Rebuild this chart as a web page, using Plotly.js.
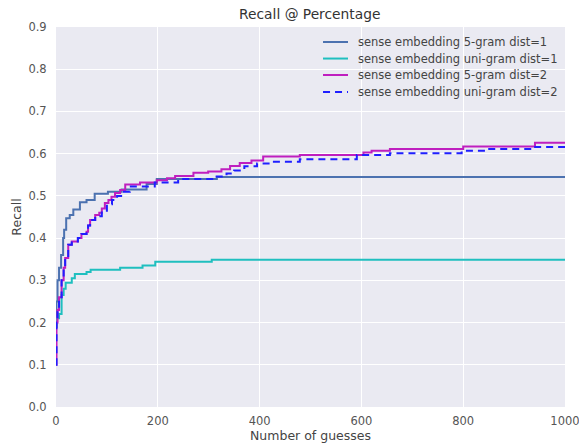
<!DOCTYPE html>
<html><head><meta charset="utf-8">
<script src="https://cdn.plot.ly/plotly-3.0.1.min.js"></script>
<style>html,body{margin:0;padding:0;background:#fff;}#chart{width:579px;height:443px;}</style>
</head><body><div id="chart"></div>
<script>
var names = ["sense embedding 5-gram dist=1","sense embedding uni-gram dist=1","sense embedding 5-gram dist=2","sense embedding uni-gram dist=2"];
var colors = ['#4c72b0', '#1fbfbf', '#bf1fbf', '#1f1fff'];
var dashes = ['solid', 'solid', 'solid', '7px,5px'];
var xA = [0, 1, 3, 6, 10, 14, 16, 20, 27, 34, 47, 60, 76, 102, 129, 178, 198, 316, 1000];
var yA = [0.19, 0.25, 0.30, 0.33, 0.36, 0.40, 0.42, 0.447, 0.455, 0.468, 0.485, 0.49, 0.505, 0.51, 0.515, 0.528, 0.54, 0.545, 0.545];
var xB = [0, 2, 6, 11, 15, 19, 31, 37, 60, 68, 126, 170, 195, 306, 1000];
var yB = [0.19, 0.21, 0.22, 0.265, 0.28, 0.294, 0.305, 0.315, 0.32, 0.325, 0.33, 0.335, 0.344, 0.349, 0.349];
var xC = [0, 1, 3, 6, 11, 15, 18, 24, 31, 43, 50, 60, 63, 67, 77, 85, 90, 96, 103, 109, 116, 126, 136, 165, 198, 218, 234, 270, 299, 325, 342, 361, 384, 407, 479, 604, 620, 656, 800, 941, 1000];
var yC = [0.10, 0.2, 0.23, 0.26, 0.30, 0.33, 0.353, 0.384, 0.392, 0.40, 0.41, 0.415, 0.43, 0.443, 0.455, 0.46, 0.47, 0.483, 0.49, 0.498, 0.507, 0.514, 0.527, 0.532, 0.537, 0.542, 0.547, 0.555, 0.558, 0.563, 0.571, 0.578, 0.584, 0.593, 0.597, 0.603, 0.607, 0.611, 0.617, 0.626, 0.626];
var xD = [0, 1, 3, 6, 11, 15, 18, 24, 31, 43, 50, 60, 63, 67, 77, 90, 100, 110, 120, 130, 145, 194, 240, 309, 335, 350, 370, 395, 420, 479, 591, 656, 797, 843, 937, 1000];
var yD = [0.10, 0.2, 0.23, 0.26, 0.30, 0.33, 0.353, 0.384, 0.392, 0.40, 0.41, 0.415, 0.43, 0.443, 0.452, 0.465, 0.48, 0.49, 0.50, 0.51, 0.522, 0.532, 0.54, 0.546, 0.553, 0.56, 0.57, 0.577, 0.581, 0.587, 0.597, 0.601, 0.607, 0.611, 0.616, 0.616];
var xTicks = [0, 200, 400, 600, 800, 1000];
var yTicks = [0.0, 0.1, 0.2, 0.3, 0.4, 0.5, 0.6, 0.7, 0.8, 0.9];
var yTickText = ["0.0","0.1","0.2","0.3","0.4","0.5","0.6","0.7","0.8","0.9"];

var xs = [xA, xB, xC, xD], ys = [yA, yB, yC, yD];
var traces = xs.map(function(x, i){
  return {x:x, y:ys[i], name:names[i], mode:'lines', showlegend:false,
          line:{shape:'hv', color:colors[i], width:2, dash:dashes[i]}};
});

// legend drawn as paper-anchored shapes + text (matplotlib-like compact spacing)
var legY = [0.9605, 0.917, 0.8737, 0.8289];
var shapes = [], annotations = [];
for (var i = 0; i < names.length; i++) {
  shapes.push({type:'line', xref:'paper', yref:'paper', x0:0.5246, x1:0.5737, y0:legY[i], y1:legY[i],
               line:{color:colors[i], width:2, dash:dashes[i]}});
  annotations.push({xref:'paper', yref:'paper', x:0.589, y:legY[i], xanchor:'left', yanchor:'middle',
               text:names[i], showarrow:false, font:{family:'DejaVu Sans, sans-serif', size:11.5, color:'#444'}});
}

var layout = {
  width:579, height:443,
  margin:{l:56, r:14, t:27, b:36},
  paper_bgcolor:'#ffffff', plot_bgcolor:'#eaeaf2',
  font:{family:'DejaVu Sans, sans-serif', size:11, color:'#444'},
  showlegend:false,
  title:{text:'Recall @ Percentage', font:{family:'DejaVu Sans, sans-serif', size:13.8, color:'#333'}, x:0.535, xanchor:'center', y:0.968, yanchor:'middle'},
  xaxis:{range:[0,1000], tickvals:xTicks, ticks:'outside', ticklen:3, tickcolor:'rgba(0,0,0,0)', ticklabeloverflow:'allow', showgrid:true, gridcolor:'#ffffff', gridwidth:1, zeroline:false, showline:false,
    tickfont:{family:'DejaVu Sans, sans-serif', size:11.5, color:'#555'},
    title:{text:'Number of guesses', font:{family:'DejaVu Sans, sans-serif', size:12.5, color:'#444'}, standoff:3}},
  yaxis:{range:[0,0.9], tickvals:yTicks, ticktext:yTickText, ticks:'outside', ticklen:6, tickcolor:'rgba(0,0,0,0)', showgrid:true, gridcolor:'#ffffff', gridwidth:1, zeroline:false, showline:false,
    tickfont:{family:'DejaVu Sans, sans-serif', size:11.5, color:'#555'},
    title:{text:'Recall', font:{family:'DejaVu Sans, sans-serif', size:12.5, color:'#444'}, standoff:4}},
  shapes:shapes,
  annotations:annotations
};
Plotly.newPlot('chart', traces, layout, {displayModeBar:false, staticPlot:true});
</script>
</body></html>
